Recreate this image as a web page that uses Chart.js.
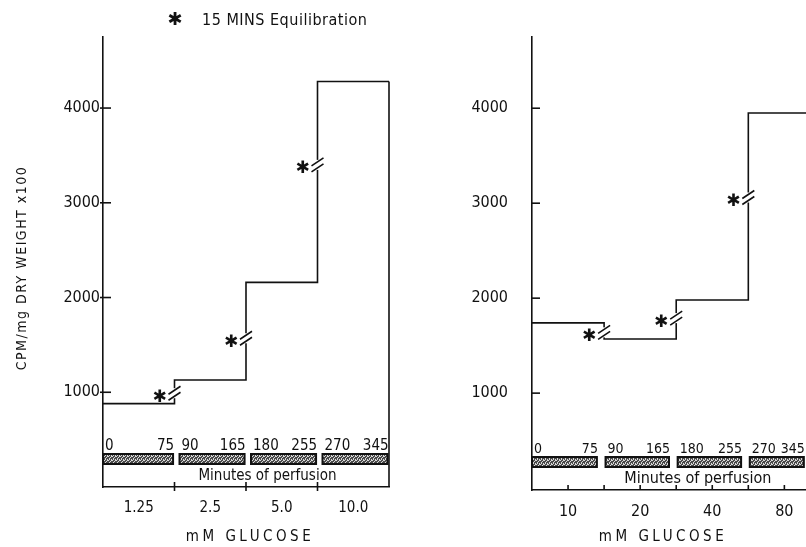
<!DOCTYPE html>
<html>
<head>
<meta charset="utf-8">
<script src="https://cdn.jsdelivr.net/npm/chart.js@4/dist/chart.umd.min.js"></script>
<style>
  body { margin: 0; background: #fff; }
  canvas { position: absolute; top: 0; }
  #left { left: 0; }
  #right { left: 400px; }
</style>
</head>
<body>
<canvas id="left" width="400" height="547"></canvas>
<canvas id="right" width="406" height="547"></canvas>
<script>
// left panel: glucose 1.25 - 10 mM
const glucoseA = ['1.25', '2.5', '5.0', '10.0'];
const cpmA = [880, 1130, 2160, 4280];
const breaksA = [990, 1570, 3400];
// right panel: glucose 10 - 80 mM
const glucoseB = ['10', '20', '40', '80'];
const cpmB = [1740, 1570, 1980, 3950];
const breaksB = [1640, 1790, 3060];
// perfusion periods (minutes)
const minutes = [[0, 75], [90, 165], [180, 255], [270, 345]];
const yTicks = [1000, 2000, 3000, 4000];

const CF = "'DejaVu Sans Condensed', 'DejaVu Sans', sans-serif";
const NF = "'Liberation Sans Narrow', 'DejaVu Sans Condensed', sans-serif";
const INK = '#111';

function hatch(ctx) {
    const c = document.createElement('canvas');
    c.width = 4; c.height = 4;
    const g = c.getContext('2d');
    g.fillStyle = '#4a4a4a';
    g.fillRect(0, 0, 4, 4);
    g.fillStyle = '#d8d8d8';
    g.fillRect(0, 0, 1, 1);
    g.fillRect(2, 1, 1, 1);
    g.fillRect(1, 2, 1, 1);
    g.fillRect(3, 3, 1, 1);
    g.fillRect(3, 0, 1, 1);
    g.fillRect(1, 3, 1, 1);
    return ctx.createPattern(c, 'repeat');
}

function panel(id, cfg) {
    const last = cfg.values[cfg.values.length - 1];

    const decor = {
        id: 'decor',
        afterDatasetsDraw(chart) {
            const { ctx, chartArea: a, scales: { x, y } } = chart;
            ctx.save();
            ctx.strokeStyle = INK;
            ctx.lineWidth = 1.6;

            // closing line on the right (left panel only)
            if (cfg.box) {
                ctx.beginPath();
                ctx.moveTo(x.getPixelForValue(cfg.xMax), y.getPixelForValue(last));
                ctx.lineTo(x.getPixelForValue(cfg.xMax), a.bottom);
                ctx.stroke();
            }

            // inward y ticks
            yTicks.forEach(v => {
                const py = y.getPixelForValue(v);
                ctx.beginPath();
                ctx.moveTo(a.left - cfg.tickOut, py);
                ctx.lineTo(a.left + 8, py);
                ctx.stroke();
            });

            // small x ticks
            cfg.xMarks.forEach(v => {
                const px = x.getPixelForValue(v);
                ctx.beginPath();
                ctx.moveTo(px, a.bottom + cfg.markDown);
                ctx.lineTo(px, a.bottom - 5);
                ctx.stroke();
            });

            // breaks in the risers + asterisks
            cfg.breaks.forEach((b, i) => {
                const px = x.getPixelForValue(i + 1);
                const py = y.getPixelForValue(b);
                ctx.fillStyle = '#fff';
                ctx.fillRect(px - 3, py - 5, 6, 10);
                ctx.beginPath();
                [-3, 3].forEach(o => {
                    ctx.moveTo(px - 6, py + o + 4);
                    ctx.lineTo(px + 6, py + o - 4);
                });
                ctx.stroke();
                ctx.fillStyle = INK;
                ctx.font = "17px 'DejaVu Sans'";
                ctx.textAlign = 'center';
                ctx.textBaseline = 'middle';
                ctx.fillText('✱', px - 15, py + 4);
            });

            // perfusion bars
            const pat = hatch(ctx);
            const top = a.bottom - 33;
            minutes.forEach((m, i) => {
                const x0 = x.getPixelForValue(i + (i ? cfg.gap : 0));
                const x1 = x.getPixelForValue(Math.min(i + cfg.barEnd, cfg.xMax - cfg.endPad));
                ctx.fillStyle = pat;
                ctx.fillRect(x0, top, x1 - x0, 10);
                ctx.lineWidth = 2;
                ctx.strokeRect(x0, top, x1 - x0, 10);
                ctx.fillStyle = INK;
                ctx.font = cfg.minLabel + 'px ' + CF;
                ctx.textBaseline = 'alphabetic';
                ctx.textAlign = 'left';
                ctx.fillText(String(m[0]), x0 + 2, top - 4);
                ctx.textAlign = 'right';
                ctx.fillText(String(m[1]), x1 + 1, top - 4);
            });
            ctx.font = cfg.minFont + 'px ' + CF;
            ctx.textAlign = 'center';
            ctx.textBaseline = 'middle';
            ctx.fillText('Minutes of perfusion', x.getPixelForValue(2.3), a.bottom - 11);

            // x title
            ctx.font = '15px ' + CF;
            ctx.letterSpacing = '3.5px';
            ctx.fillText('mM GLUCOSE', (a.left + a.right) / 2 + cfg.titleShift, 537);
            ctx.letterSpacing = '0px';

            if (cfg.box) {
                // y title
                ctx.save();
                ctx.translate(22, 268);
                ctx.rotate(-Math.PI / 2);
                ctx.font = '14px ' + CF;
                ctx.letterSpacing = '1.5px';
                ctx.fillText('CPM/mg DRY WEIGHT x100', 0, 0);
                ctx.restore();
                // key
                ctx.font = "18px 'DejaVu Sans'";
                ctx.fillText('✱', 175, 20);
                ctx.font = '16px ' + CF;
                ctx.textAlign = 'left';
                ctx.letterSpacing = '0.5px';
                ctx.fillText('15 MINS Equilibration', 202, 21);
                ctx.letterSpacing = '0px';
            }
            ctx.restore();
        }
    };

    new Chart(document.getElementById(id), {
        type: 'line',
        data: {
            datasets: [{
                data: [...cfg.values.map((v, i) => ({ x: i, y: v })), { x: cfg.xMax, y: last }],
                stepped: 'before',
                borderColor: INK,
                borderWidth: 1.6,
                pointRadius: 0,
                fill: false
            }]
        },
        options: {
            responsive: false,
            animation: false,
            events: [],
            layout: { padding: { top: 37, right: cfg.padRight, left: 0, bottom: 0 } },
            plugins: { legend: { display: false }, tooltip: { enabled: false } },
            scales: {
                x: {
                    type: 'linear',
                    min: 0,
                    max: cfg.xMax,
                    grid: { display: false, drawTicks: false },
                    border: { display: true, color: INK, width: 1.6 },
                    afterFit: s => { s.height = cfg.xHeight; },
                    afterBuildTicks: s => { s.ticks = cfg.labels.map((l, i) => ({ value: i + 0.5 })); },
                    ticks: {
                        padding: 12,
                        color: INK,
                        autoSkip: false,
                        maxRotation: 0,
                        font: { family: cfg.font, size: cfg.fontSize },
                        callback: (v, i) => cfg.labels[i]
                    }
                },
                y: {
                    min: cfg.yMin,
                    max: 4750,
                    grid: { display: false, drawTicks: false },
                    border: { display: true, color: INK, width: 1.6 },
                    afterFit: s => { s.width = cfg.yWidth; },
                    afterBuildTicks: s => { s.ticks = yTicks.map(v => ({ value: v })); },
                    ticks: {
                        padding: cfg.yPad,
                        color: INK,
                        font: { family: cfg.font, size: 16 },
                        callback: v => String(v)
                    }
                }
            }
        },
        plugins: [decor]
    });
}

panel('left', {
    labels: glucoseA, values: cpmA, breaks: breaksA,
    xMax: 4, yMin: 0, yWidth: 103, yPad: 3, xHeight: 60, padRight: 11,
    font: CF, fontSize: 15, box: true, tickOut: 3,
    xMarks: [1, 2, 3], markDown: 4, gap: 0.07, barEnd: 0.98, endPad: 0,
    minFont: 15, minLabel: 15, titleShift: 4
});

panel('right', {
    labels: glucoseB, values: cpmB, breaks: breaksB,
    xMax: 3.8, yMin: -20, yWidth: 132, yPad: 24, xHeight: 57, padRight: 0,
    font: NF, fontSize: 16, box: false, tickOut: 0,
    xMarks: [0.5, 1, 1.5, 2, 2.5, 3, 3.5], markDown: 0, gap: 0.02, barEnd: 0.9, endPad: 0.03,
    minFont: 16, minLabel: 14, titleShift: -6
});
</script>
</body>
</html>
